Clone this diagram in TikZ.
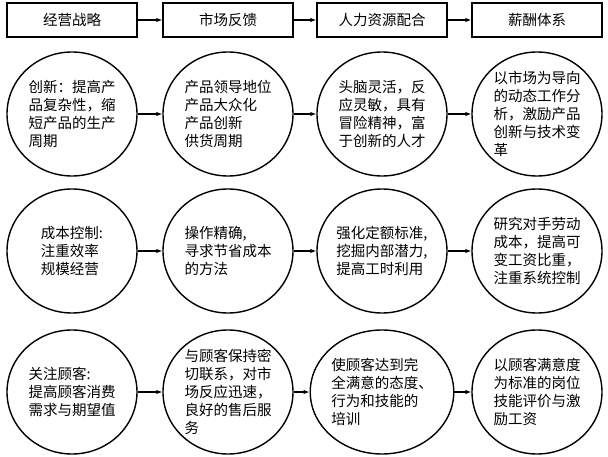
\documentclass[tikz,border=0pt]{standalone}
\usepackage{fontspec}
\newfontfamily\cjk{Noto Sans CJK SC}
\usetikzlibrary{shapes.geometric,arrows.meta}
\begin{document}
\begin{tikzpicture}[x=1pt,y=-1pt,
  hdr/.style={draw,line width=1.4pt,minimum width=130pt,minimum height=34pt,inner sep=0pt,font=\cjk\fontsize{14.5}{18}\selectfont},
  circ/.style={draw,ellipse,line width=1.4pt,minimum width=130pt,minimum height=124pt,inner sep=0pt,align=left,font=\cjk\fontsize{14.5}{18}\selectfont},
  arr/.style={line width=1.1pt,-{Latex[length=6pt,width=4.5pt]}}]
\useasboundingbox (0,0) rectangle (608,457);
% headers
\node[hdr] (h1) at (72,20) {经营战略};
\node[hdr] (h2) at (228,20) {市场反馈};
\node[hdr] (h3) at (382,20) {人力资源配合};
\node[hdr] (h4) at (537,20) {薪酬体系};
\draw[arr] (h1) -- (h2);
\draw[arr] (h2) -- (h3);
\draw[arr] (h3) -- (h4);
% row 1
\node[circ] (a1) at (72,114) {创新：提高产\\品复杂性，缩\\短产品的生产\\周期};
\node[circ] (a2) at (228,114) {产品领导地位\\产品大众化\\产品创新\\供货周期};
\node[circ] (a3) at (382,114) {头脑灵活，反\\应灵敏，具有\\冒险精神，富\\于创新的人才};
\node[circ] (a4) at (537,114) {以市场为导向\\的动态工作分\\析，激励产品\\创新与技术变\\革};
\draw[arr] (a1) -- (a2);
\draw[arr] (a2) -- (a3);
\draw[arr] (a3) -- (a4);
% row 2
\node[circ] (b1) at (72,251) {成本控制:\\注重效率\\规模经营};
\node[circ] (b2) at (228,251) {操作精确,\\寻求节省成本\\的方法};
\node[circ] (b3) at (382,251) {强化定额标准,\\挖掘内部潜力,\\提高工时利用};
\node[circ] (b4) at (537,251) {研究对手劳动\\成本，提高可\\变工资比重，\\注重系统控制};
\draw[arr] (b1) -- (b2);
\draw[arr] (b2) -- (b3);
\draw[arr] (b3) -- (b4);
% row 3
\node[circ] (c1) at (72,392) {关注顾客:\\提高顾客消费\\需求与期望值};
\node[circ] (c2) at (228,392) {与顾客保持密\\切联系，对市\\场反应迅速，\\良好的售后服\\务};
\node[circ] (c3) at (382,392) {使顾客达到完\\全满意的态度、\\行为和技能的\\培训};
\node[circ] (c4) at (537,392) {以顾客满意度\\为标准的岗位\\技能评价与激\\励工资};
\draw[arr] (c1) -- (c2);
\draw[arr] (c2) -- (c3);
\draw[arr] (c3) -- (c4);
\end{tikzpicture}
\end{document}
